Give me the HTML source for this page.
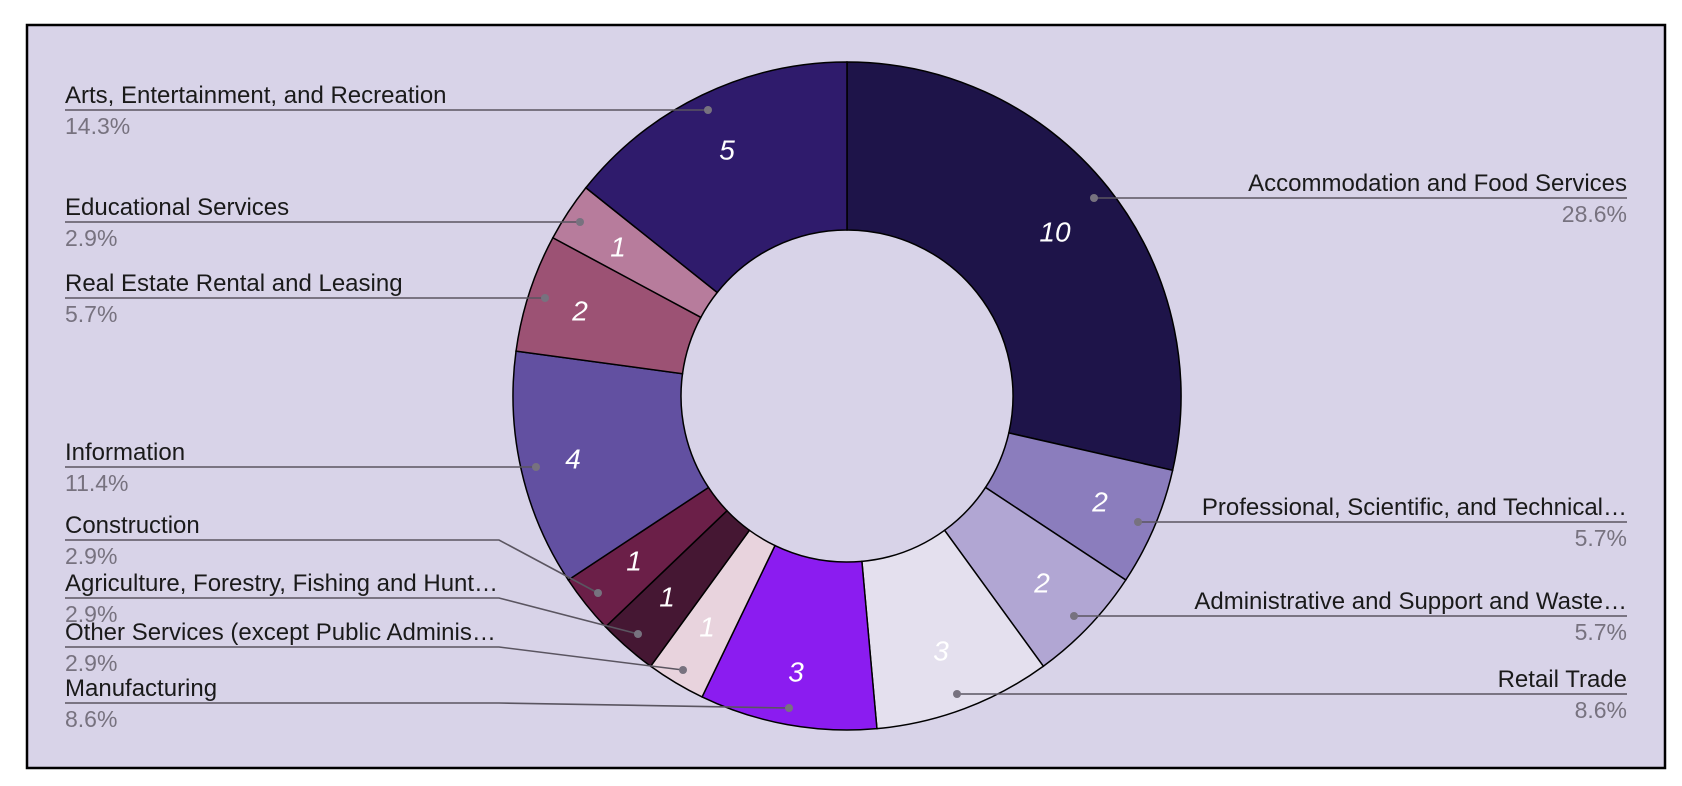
<!DOCTYPE html>
<html><head><meta charset="utf-8"><style>
html,body{margin:0;padding:0;background:#fff;}
svg{display:block;font-family:"Liberation Sans",Arial,sans-serif;}
.l{font-size:24px;fill:#1a1a1a;}
.p{font-size:23px;fill:#77727f;}
.v{font-size:28px;fill:#fff;font-style:italic;text-anchor:middle;dominant-baseline:central;}
.ln{stroke:#5a5560;stroke-width:1.6;fill:none;}
.d{fill:#77727f;}
</style></head><body>
<svg id="s" width="1682" height="786" viewBox="0 0 1682 786">
<rect x="27" y="25" width="1638" height="743" fill="#d8d3e8" stroke="#000" stroke-width="2.5"/>
<g id="pie"></g>
<path class="ln" d="M65 110H708"/>
<path class="ln" d="M65 222H580"/>
<path class="ln" d="M65 298H545"/>
<path class="ln" d="M65 467H536"/>
<path class="ln" d="M65 540H499L598 593"/>
<path class="ln" d="M65 598H499L638 634"/>
<path class="ln" d="M65 647H499L683 670"/>
<path class="ln" d="M65 703H499L789 708"/>
<path class="ln" d="M1094 198H1627"/>
<path class="ln" d="M1138 522H1627"/>
<path class="ln" d="M1074 616H1627"/>
<path class="ln" d="M957 694H1627"/>
<g class="d">
<circle cx="708" cy="110" r="4"/><circle cx="580" cy="222" r="4"/><circle cx="545" cy="298" r="4"/><circle cx="536" cy="467" r="4"/>
<circle cx="598" cy="593" r="4"/><circle cx="638" cy="634" r="4"/><circle cx="683" cy="670" r="4"/><circle cx="789" cy="708" r="4"/>
<circle cx="1094" cy="198" r="4"/><circle cx="1138" cy="522" r="4"/><circle cx="1074" cy="616" r="4"/><circle cx="957" cy="694" r="4"/>
</g>
<text class="l" x="65" y="103">Arts, Entertainment, and Recreation</text><text class="p" x="65" y="134">14.3%</text>
<text class="l" x="65" y="215">Educational Services</text><text class="p" x="65" y="246">2.9%</text>
<text class="l" x="65" y="291">Real Estate Rental and Leasing</text><text class="p" x="65" y="322">5.7%</text>
<text class="l" x="65" y="460">Information</text><text class="p" x="65" y="491">11.4%</text>
<text class="l" x="65" y="533">Construction</text><text class="p" x="65" y="564">2.9%</text>
<text class="l" x="65" y="591">Agriculture, Forestry, Fishing and Hunt…</text><text class="p" x="65" y="622">2.9%</text>
<text class="l" x="65" y="640">Other Services (except Public Adminis…</text><text class="p" x="65" y="671">2.9%</text>
<text class="l" x="65" y="696">Manufacturing</text><text class="p" x="65" y="727">8.6%</text>
<g text-anchor="end">
<text class="l" x="1627" y="191">Accommodation and Food Services</text><text class="p" x="1627" y="222">28.6%</text>
<text class="l" x="1627" y="515">Professional, Scientific, and Technical…</text><text class="p" x="1627" y="546">5.7%</text>
<text class="l" x="1627" y="609">Administrative and Support and Waste…</text><text class="p" x="1627" y="640">5.7%</text>
<text class="l" x="1627" y="687">Retail Trade</text><text class="p" x="1627" y="718">8.6%</text>
</g>
<text class="v" x="1055" y="232">10</text>
<text class="v" x="1100" y="502">2</text>
<text class="v" x="1042" y="583">2</text>
<text class="v" x="941" y="651">3</text>
<text class="v" x="796" y="672">3</text>
<text class="v" x="707" y="627">1</text>
<text class="v" x="667" y="597">1</text>
<text class="v" x="634" y="561">1</text>
<text class="v" x="573" y="459">4</text>
<text class="v" x="580" y="311">2</text>
<text class="v" x="618" y="247">1</text>
<text class="v" x="727" y="150">5</text>
</svg>
<script>
(function(){
var cx=847,cy=396,R=334,r=166;
var d=[[10,"#1e1449"],[2,"#8b7dbd"],[2,"#b1a6d3"],[3,"#e4e0ee"],[3,"#8b1cf0"],[1,"#e8d3dd"],[1,"#451733"],[1,"#6b1f48"],[4,"#6250a1"],[2,"#9c5274"],[1,"#b77c9c"],[5,"#2f1b6c"]];
var g=document.getElementById("pie"),a=0,h="";
function p(rad,ang){return [cx+rad*Math.sin(ang),cy-rad*Math.cos(ang)];}
d.forEach(function(s){
 var a0=a/35*2*Math.PI;a+=s[0];var a1=a/35*2*Math.PI;
 var L=(a1-a0)>Math.PI?1:0;
 var o0=p(R,a0),o1=p(R,a1),i1=p(r,a1),i0=p(r,a0);
 h+='<path fill="'+s[1]+'" stroke="#000" stroke-width="1.5" d="M'+o0+'A'+R+' '+R+' 0 '+L+' 1 '+o1+'L'+i1+'A'+r+' '+r+' 0 '+L+' 0 '+i0+'Z"/>';
});
g.innerHTML=h;
})();
</script>
</body></html>
